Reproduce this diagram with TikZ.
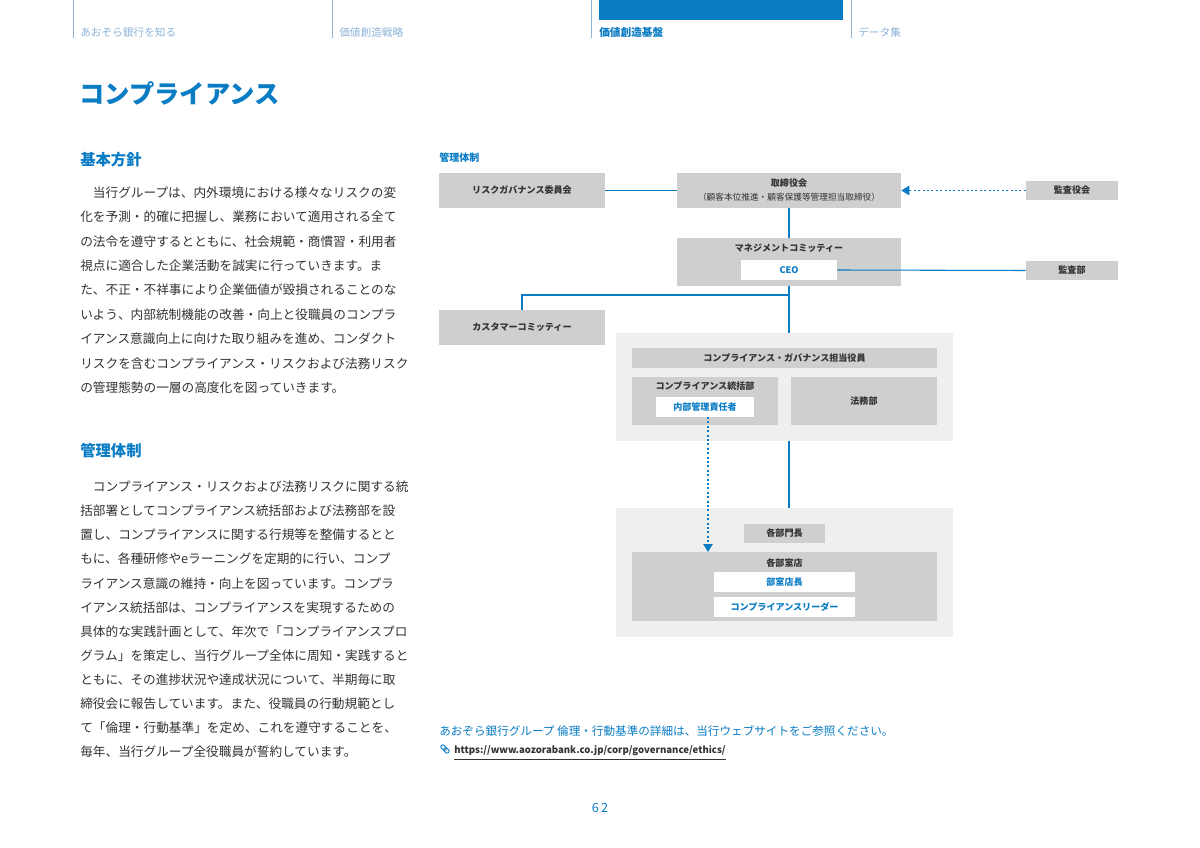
\documentclass[tikz,border=0pt]{standalone}
\usepackage{fontspec}
\setmainfont{Noto Sans CJK JP}
\usetikzlibrary{arrows.meta}
\definecolor{ablue}{HTML}{0A7CC4}
\definecolor{lblue}{HTML}{8DB3D9}
\definecolor{txt}{HTML}{333333}
\definecolor{gbox}{HTML}{CFCFCF}
\definecolor{panel}{HTML}{EFEFEF}
\begin{document}
\begin{tikzpicture}[x=0.75pt,y=-0.75pt,
  body/.style={anchor=west,inner sep=0pt,font=\fontsize{9.5}{12}\selectfont,text=txt},
  head/.style={anchor=west,inner sep=0pt,font=\fontsize{11.5}{13}\selectfont\bfseries,text=ablue},
  tab/.style={anchor=west,inner sep=0pt,font=\fontsize{8}{9}\selectfont,text=lblue},
  box/.style 2 args={inner sep=0pt,draw=none,minimum width={#1*0.75pt},minimum height={#2*0.75pt}},
  gb/.style 2 args={box={#1}{#2},fill=gbox},
  wb/.style 2 args={box={#1}{#2},fill=white},
  lbl/.style={inner sep=0pt,font=\fontsize{6.8}{8}\selectfont\bfseries,text=txt},
  blbl/.style={inner sep=0pt,font=\fontsize{6.8}{8}\selectfont\bfseries,text=ablue},
  con/.style={ablue,line width=0.8pt},
  dot/.style={ablue,line width=1.2pt,dash pattern=on 1.5pt off 1.8pt}]
\useasboundingbox (0,0) rectangle (1200,848);
\fill[white] (0,0) rectangle (1200,848);
% header
\foreach \x in {73,332,591,851} \draw[lblue,line width=0.6pt] (\x,0) -- (\x,38);
\fill[ablue] (599,0) rectangle (843,20);
\node[tab] (t1) at (80,32) {あおぞら銀行を知る};
\node[tab] (t2) at (339,32) {価値創造戦略};
\node[tab,text=ablue,font=\fontsize{8}{9}\selectfont\bfseries] (t3) at (599,32) {価値創造基盤};
\node[tab] (t4) at (858,32) {データ集};
\node[anchor=west,inner sep=0pt,font=\fontsize{19}{24}\selectfont\bfseries,text=ablue] (title) at (79,93) {コンプライアンス};
% left column
\node[head] (h1) at (80,160) {基本方針};
\node[body] (a1) at (80,193) {\hspace*{1em}当行グループは、内外環境における様々なリスクの変};
\node[body] (a2) at (80,217) {化を予測・的確に把握し、業務において適用される全て};
\node[body] (a3) at (80,242) {の法令を遵守するとともに、社会規範・商慣習・利用者};
\node[body] (a4) at (80,266) {視点に適合した企業活動を誠実に行っていきます。ま};
\node[body] (a5) at (80,290) {た、不正・不祥事により企業価値が毀損されることのな};
\node[body] (a6) at (80,315) {いよう、内部統制機能の改善・向上と役職員のコンプラ};
\node[body] (a7) at (80,339) {イアンス意識向上に向けた取り組みを進め、コンダクト};
\node[body] (a8) at (80,364) {リスクを含むコンプライアンス・リスクおよび法務リスク};
\node[body] (a9) at (80,388) {の管理態勢の一層の高度化を図っていきます。};
\node[head] (h2) at (80,451) {管理体制};
\node[body] (b1) at (80,487) {\hspace*{1em}コンプライアンス・リスクおよび法務リスクに関する統};
\node[body] (b2) at (80,511) {括部署としてコンプライアンス統括部および法務部を設};
\node[body] (b3) at (80,535) {置し、コンプライアンスに関する行規等を整備するとと};
\node[body] (b4) at (80,559) {もに、各種研修やeラーニングを定期的に行い、コンプ};
\node[body] (b5) at (80,584) {ライアンス意識の維持・向上を図っています。コンプラ};
\node[body] (b6) at (80,608) {イアンス統括部は、コンプライアンスを実現するための};
\node[body] (b7) at (80,632) {具体的な実践計画として、年次で「コンプライアンスプロ};
\node[body] (b8) at (80,656) {グラム」を策定し、当行グループ全体に周知・実践すると};
\node[body] (b9) at (80,680) {ともに、その進捗状況や達成状況について、半期毎に取};
\node[body] (b10) at (80,704) {締役会に報告しています。また、役職員の行動規範とし};
\node[body] (b11) at (80,728) {て「倫理・行動基準」を定め、これを遵守することを、};
\node[body] (b12) at (80,752) {毎年、当行グループ全役職員が誓約しています。};
% diagram
\node[anchor=west,inner sep=0pt,font=\fontsize{7.5}{8}\selectfont\bfseries,text=ablue] (dh) at (439,158) {管理体制};
\fill[panel] (616,333) rectangle (953,441);
\fill[panel] (616,508) rectangle (953,637);
\node[gb={166}{35}] (risk) at (522,190.5) {};
\node[lbl] at (risk) {リスクガバナンス委員会};
\node[gb={224}{35}] (board) at (789,190.5) {};
\node[lbl] at (789,183) {取締役会};
\node[inner sep=0pt,font=\fontsize{6.5}{8}\selectfont,text=txt] at (789,197) {（顧客本位推進・顧客保護等管理担当取締役）};
\node[gb={92}{19}] (kansayaku) at (1072,190.5) {};
\node[lbl] at (kansayaku) {監査役会};
\node[gb={224}{48}] (mgmt) at (789,262) {};
\node[lbl] at (789,248) {マネジメントコミッティー};
\node[wb={96}{20}] (ceo) at (789,270) {};
\node[blbl] at (ceo) {CEO};
\node[gb={92}{19}] (kansabu) at (1072,270.5) {};
\node[lbl] at (kansabu) {監査部};
\node[gb={166}{35}] (cust) at (522,327.5) {};
\node[lbl] at (cust) {カスタマーコミッティー};
\node[gb={305}{20}] (cgo) at (784.5,358) {};
\node[lbl] at (cgo) {コンプライアンス・ガバナンス担当役員};
\node[gb={146}{48}] (cdept) at (705,401) {};
\node[lbl] at (705,386) {コンプライアンス統括部};
\node[wb={98}{20}] (naibu) at (705,407) {};
\node[blbl] at (naibu) {内部管理責任者};
\node[gb={146}{48}] (legal) at (864,401) {};
\node[lbl] at (legal) {法務部};
\node[gb={81}{19}] (bumon) at (784.5,533.5) {};
\node[lbl] at (bumon) {各部門長};
\node[gb={305}{69}] (branch) at (784.5,586.5) {};
\node[lbl] at (784.5,563) {各部室店};
\node[wb={141}{20}] (head) at (784.5,582) {};
\node[blbl] at (head) {部室店長};
\node[wb={141}{20}] (leader) at (784.5,607) {};
\node[blbl] at (leader) {コンプライアンスリーダー};
\coordinate (p1top) at (789,333);
\coordinate (p1bot) at (789,441);
\coordinate (p2top) at (789,508);
\coordinate (br) at (789,295);
\coordinate (nb) at (708,417);
\coordinate (ae) at (708,552);
% connectors
\draw[con] (risk.east) -- (board.west);
\draw[con] (board.south) -- (mgmt.north);
\draw[con] (ceo.east) -- (kansabu.west);
\draw[con] (mgmt.south) -- (p1top);
\draw[con] (br) -| (cust.north);
\draw[con] (p1bot) -- (p2top);
\draw[dot,-{Triangle[length=6pt,width=7pt]}] (kansayaku.west) -- (board.east);
\draw[dot,-{Triangle[length=6pt,width=7pt]}] (nb) -- (ae);
% footer
\node[anchor=west,inner sep=0pt,font=\fontsize{8.7}{10}\selectfont,text=ablue] (ft) at (439,731) {あおぞら銀行グループ 倫理・行動基準の詳細は、当行ウェブサイトをご参照ください。};
\begin{scope}[shift={(445,749)},rotate=-45,ablue,line width=0.7pt]
\draw[rounded corners=1.5pt] (-5,-2) rectangle (1,2);
\draw[rounded corners=1.5pt] (-1,-2) rectangle (5,2);
\end{scope}
\node[anchor=west,inner sep=0pt,font=\fontsize{7.2}{8}\selectfont\bfseries,text=txt] (url) at (454,751) {https://www.aozorabank.co.jp/corp/governance/ethics/};
\draw[txt,line width=0.5pt] ([yshift=-2pt]url.south west) -- ([yshift=-2pt]url.south east);
\node[inner sep=0pt,font=\fontsize{9.5}{11}\selectfont,text=ablue] (pg) at (600,808) {6\,2};
\end{tikzpicture}
\end{document}
